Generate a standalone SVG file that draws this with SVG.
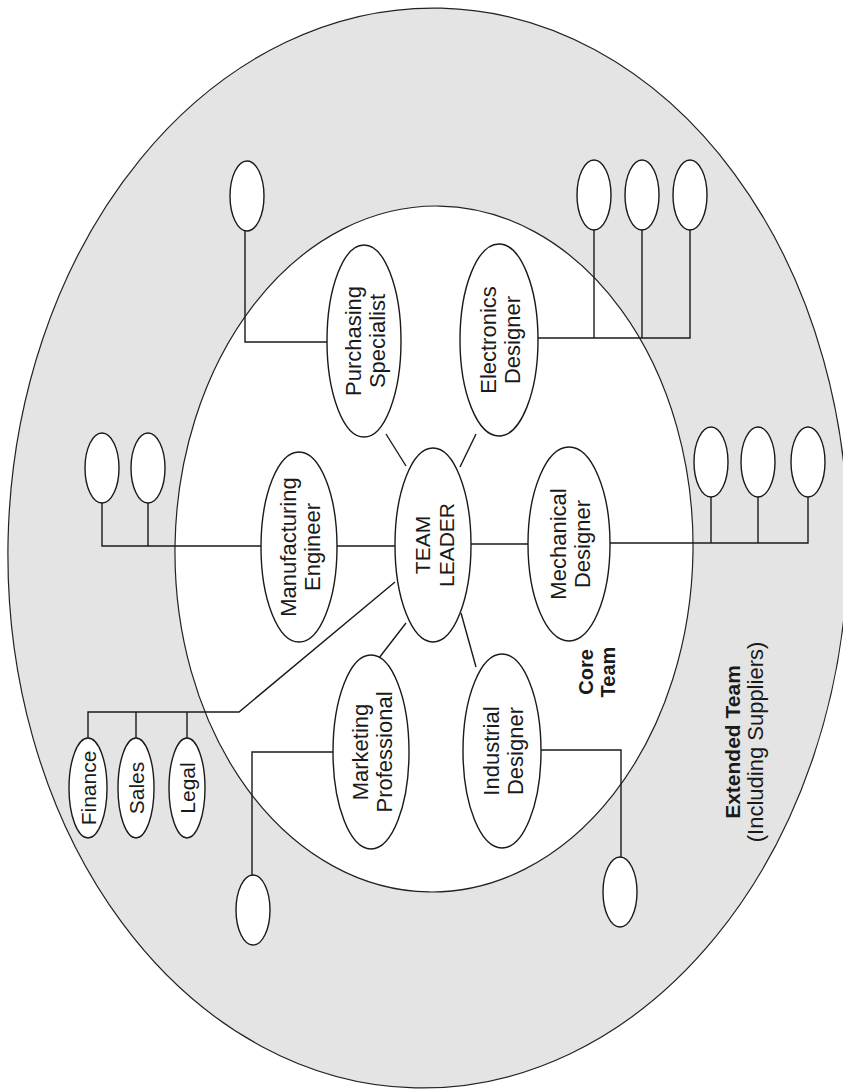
<svg xmlns="http://www.w3.org/2000/svg" width="843" height="1091" viewBox="0 0 843 1091">
<style>
.bg{fill:#ffffff}
.ext{fill:#e4e4e4;stroke:#222;stroke-width:1.2}
.core{fill:#ffffff;stroke:#222;stroke-width:1.2}
.node{fill:#ffffff;stroke:#1a1a1a;stroke-width:1.4}
.conn{fill:none;stroke:#1a1a1a;stroke-width:1.4}
.t{font-family:"Liberation Sans",Arial,sans-serif;font-size:22px;fill:#1a1a1a;text-anchor:middle}
.tl{font-family:"Liberation Sans",Arial,sans-serif;font-size:21px;fill:#1a1a1a;text-anchor:middle}
.b{font-weight:bold}
</style>
<rect class="bg" x="0" y="0" width="843" height="1091"/>
<g id="extended-team">
<ellipse class="ext" cx="428" cy="548" rx="420" ry="540" transform="rotate(1.4 428 548)"/>
</g>
<g id="core-team">
<ellipse class="core" cx="434" cy="549" rx="259" ry="343" transform="rotate(0.9 434 549)"/>
</g>
<g id="connectors">
<polyline class="conn" points="328,342 245,342 245,231"/>
<polyline class="conn" points="538,338 690,338 690,230"/>
<line class="conn" x1="594" y1="338" x2="594" y2="230"/>
<line class="conn" x1="642" y1="338" x2="642" y2="230"/>
<polyline class="conn" points="261,546 102,546 102,503"/>
<line class="conn" x1="148" y1="546" x2="148" y2="503"/>
<line class="conn" x1="337" y1="546" x2="395" y2="546"/>
<line class="conn" x1="471" y1="544" x2="528" y2="544"/>
<polyline class="conn" points="610,543 808,543 808,497"/>
<line class="conn" x1="711" y1="543" x2="711" y2="497"/>
<line class="conn" x1="758" y1="543" x2="758" y2="497"/>
<line class="conn" x1="406" y1="466" x2="386" y2="434"/>
<line class="conn" x1="460" y1="467" x2="476" y2="434"/>
<line class="conn" x1="406" y1="623" x2="379" y2="658"/>
<line class="conn" x1="461" y1="613" x2="476" y2="667"/>
<polyline class="conn" points="395,582 239,712 88,712 88,738"/>
<line class="conn" x1="136" y1="712" x2="136" y2="738"/>
<line class="conn" x1="187" y1="712" x2="187" y2="738"/>
<polyline class="conn" points="333,752 252,752 252,875"/>
<polyline class="conn" points="540,750 621,750 621,857"/>
</g>
<g id="purchasing-specialist">
<ellipse class="node" cx="364" cy="341" rx="37" ry="96"/>
<g transform="translate(364,341) rotate(-90)"><text class="t" x="0" y="-3">Purchasing</text><text class="t" x="0" y="21">Specialist</text></g>
</g>
<g id="electronics-designer">
<ellipse class="node" cx="499" cy="340" rx="39" ry="96"/>
<g transform="translate(499,340) rotate(-90)"><text class="t" x="0" y="-3">Electronics</text><text class="t" x="0" y="21">Designer</text></g>
</g>
<g id="manufacturing-engineer">
<ellipse class="node" cx="299" cy="547" rx="38" ry="95"/>
<g transform="translate(299,547) rotate(-90)"><text class="t" x="0" y="-3">Manufacturing</text><text class="t" x="0" y="21">Engineer</text></g>
</g>
<g id="team-leader">
<ellipse class="node" cx="433" cy="545" rx="38" ry="97"/>
<g transform="translate(433,545) rotate(-90)"><text class="tl" x="0" y="-3">TEAM</text><text class="tl" x="0" y="21">LEADER</text></g>
</g>
<g id="mechanical-designer">
<ellipse class="node" cx="569" cy="544" rx="41" ry="97"/>
<g transform="translate(569,544) rotate(-90)"><text class="t" x="0" y="-3">Mechanical</text><text class="t" x="0" y="21">Designer</text></g>
</g>
<g id="marketing-professional">
<ellipse class="node" cx="371" cy="752" rx="38" ry="97"/>
<g transform="translate(371,752) rotate(-90)"><text class="t" x="0" y="-3">Marketing</text><text class="t" x="0" y="21">Professional</text></g>
</g>
<g id="industrial-designer">
<ellipse class="node" cx="502" cy="751" rx="39" ry="97"/>
<g transform="translate(502,751) rotate(-90)"><text class="t" x="0" y="-3">Industrial</text><text class="t" x="0" y="21">Designer</text></g>
</g>
<g id="purchasing-ext"><ellipse class="node" cx="247" cy="196" rx="17" ry="35"/></g>
<g id="electronics-ext-1"><ellipse class="node" cx="594" cy="195" rx="17" ry="35"/></g>
<g id="electronics-ext-2"><ellipse class="node" cx="642" cy="195" rx="17" ry="35"/></g>
<g id="electronics-ext-3"><ellipse class="node" cx="690" cy="195" rx="17" ry="35"/></g>
<g id="manufacturing-ext-1"><ellipse class="node" cx="102" cy="468" rx="17" ry="35"/></g>
<g id="manufacturing-ext-2"><ellipse class="node" cx="148" cy="468" rx="17" ry="35"/></g>
<g id="mechanical-ext-1"><ellipse class="node" cx="711" cy="462" rx="17" ry="35"/></g>
<g id="mechanical-ext-2"><ellipse class="node" cx="758" cy="462" rx="17" ry="35"/></g>
<g id="mechanical-ext-3"><ellipse class="node" cx="808" cy="462" rx="17" ry="35"/></g>
<g id="marketing-ext"><ellipse class="node" cx="253" cy="910" rx="17" ry="35"/></g>
<g id="industrial-ext"><ellipse class="node" cx="620" cy="892" rx="17" ry="35"/></g>
<g id="finance">
<ellipse class="node" cx="88" cy="788" rx="19" ry="50"/>
<text class="t" transform="translate(96,788) rotate(-90)" x="0" y="0" style="font-size:21px">Finance</text>
</g>
<g id="sales">
<ellipse class="node" cx="136" cy="788" rx="18" ry="50"/>
<text class="t" transform="translate(144,788) rotate(-90)" x="0" y="0" style="font-size:21px">Sales</text>
</g>
<g id="legal">
<ellipse class="node" cx="187" cy="788" rx="18" ry="50"/>
<text class="t" transform="translate(195,788) rotate(-90)" x="0" y="0" style="font-size:21px">Legal</text>
</g>
<g id="core-team-label" transform="translate(595,672) rotate(-90)">
<text class="t b" x="0" y="-2" style="font-size:20px">Core</text>
<text class="t b" x="0" y="20" style="font-size:20px">Team</text>
</g>
<g id="extended-team-label" transform="translate(742,742) rotate(-90)">
<text class="t b" x="0" y="-2" style="font-size:21px">Extended Team</text>
<text class="t" x="0" y="21" style="font-size:22px">(Including Suppliers)</text>
</g>
</svg>
